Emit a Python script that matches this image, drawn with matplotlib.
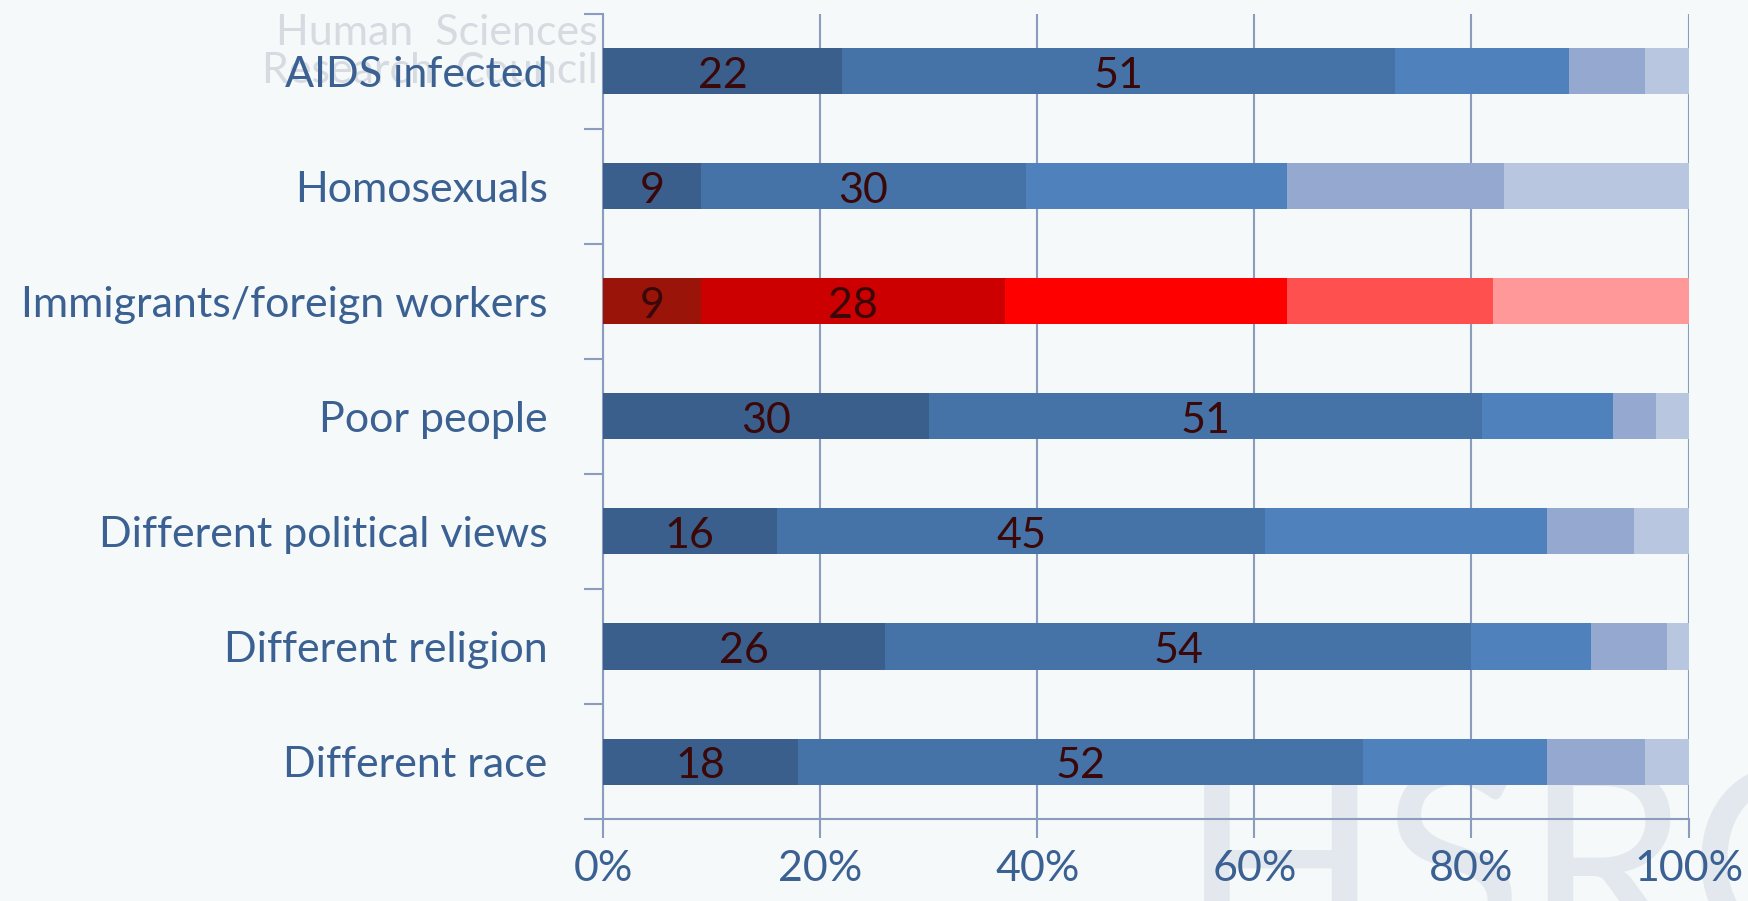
import matplotlib
matplotlib.use('Agg')
import matplotlib.pyplot as plt
import numpy as np

# Share (%) of respondents per response category, top row first
groups = ['AIDS infected', 'Homosexuals', 'Immigrants/foreign workers', 'Poor people',
          'Different political views', 'Different religion', 'Different race']
seg1 = [22, 9, 9, 30, 16, 26, 18]
seg2 = [51, 30, 28, 51, 45, 54, 52]
seg3 = [16, 24, 26, 12, 26, 11, 17]
seg4 = [7, 20, 19, 4, 8, 7, 9]
seg5 = [4, 17, 18, 3, 5, 2, 4]
xticks = [0, 20, 40, 60, 80, 100]

blues = ['#3b5f8d', '#4673a7', '#4f81bd', '#95a9d0', '#b9c6e0']
reds = ['#9b1409', '#cc0000', '#ff0000', '#ff5050', '#ff9999']
highlight = 'Immigrants/foreign workers'

label_col = '#3b6193'
num_col = '#3a0808'
grid_col = '#8c9cbf'
plt.rcParams['font.family'] = ['Liberation Sans Narrow', 'Lato', 'DejaVu Sans']

fig = plt.figure(figsize=(17.48, 9.01), dpi=100, facecolor='#f6f9fa')
ax = fig.add_axes([0.345, 0.091, 0.621, 0.8935])
ax.set_facecolor('none')
ax.set_zorder(5)

# faint watermark behind the chart
fig.text(0.342, 0.985, 'Human  Sciences\nResearch  Council', fontsize=31, color='#d6dbe2',
         ha='right', va='top', linespacing=1.0, zorder=0)
fig.text(0.675, -0.11, 'HSRC', fontsize=190, color='#e3e8ee', ha='left', va='bottom', zorder=0)

segs = [seg1, seg2, seg3, seg4, seg5]
y = np.arange(len(groups))
left = np.zeros(len(groups))
for k, s in enumerate(segs):
    cols = [reds[k] if g == highlight else blues[k] for g in groups]
    ax.barh(y, s, left=left, height=0.4, color=cols, zorder=3)
    if k < 2:
        for yi, (l, v) in enumerate(zip(left, s)):
            ax.text(l + v / 2, yi + 0.04, str(v), ha='center', va='center',
                    fontsize=31, color=num_col, zorder=4)
    left += np.array(s)

ax.set_xlim(0, 100)
ax.set_ylim(len(groups) - 0.5, -0.5)
ax.set_xticks(xticks)
ax.set_xticklabels([f'{t}%' for t in xticks])
ax.set_yticks(y)
ax.set_yticklabels(groups)
ax.set_yticks(np.arange(len(groups) + 1) - 0.5, minor=True)
ax.tick_params(axis='y', which='major', length=0, pad=40, labelsize=31, labelcolor=label_col)
ax.tick_params(axis='y', which='minor', length=14, width=1.5, color=grid_col)
ax.tick_params(axis='x', length=14, width=1.5, color=grid_col, pad=8,
               labelsize=31, labelcolor=label_col)
ax.grid(axis='x', color=grid_col, linewidth=1.5, zorder=1)
for side in ['top', 'right']:
    ax.spines[side].set_visible(False)
for side in ['left', 'bottom']:
    ax.spines[side].set_color(grid_col)
    ax.spines[side].set_linewidth(1.5)

plt.savefig('out.png', dpi=100, facecolor=fig.get_facecolor())
